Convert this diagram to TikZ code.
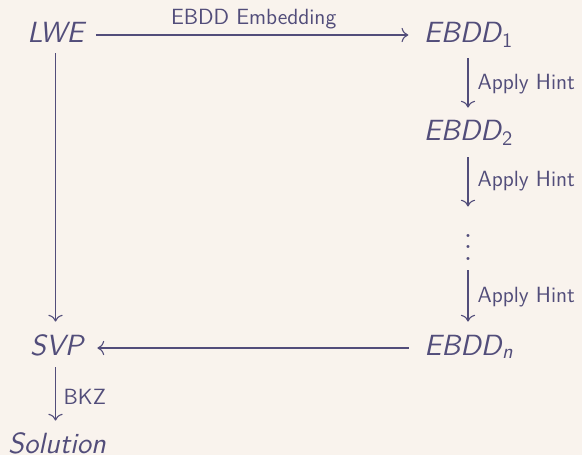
\documentclass[tikz,border=0pt]{standalone}
\usepackage{tikz}
\usetikzlibrary{cd}
\definecolor{ink}{RGB}{82,77,122}
\definecolor{bgc}{RGB}{249,243,237}
\begin{document}
\begin{tikzpicture}[x=0.5pt,y=-0.5pt,
  obj/.style={anchor=base,inner sep=0pt,text height=10pt,text depth=3pt,
    font=\fontsize{14.6}{17}\selectfont\sffamily\slshape,text=ink},
  lab/.style={inner sep=0pt,font=\fontsize{11}{13}\selectfont\sffamily,text=ink},
  arr/.style={draw=ink,line width=0.55pt,-{cm to}}]
\fill[bgc] (0,0) rectangle (582,455);
\useasboundingbox (0,0) rectangle (582,455);
\newcommand{\subup}[1]{\kern0.6pt\raisebox{-2.5pt}{\fontsize{10.2}{12}\selectfont\upshape #1}}
\newcommand{\subsl}[1]{\kern0.4pt\raisebox{-1.5pt}{\fontsize{10.2}{12}\selectfont\slshape #1}}
\node[obj] (lwe) at (55.5,42) {LWE};
\node[obj] (e1) at (468,42) {EBDD\subup{1}};
\node[obj] (e2) at (468,140) {EBDD\subup{2}};
\node[inner sep=0pt,text=ink,anchor=base] (dots) at (468,260) {\scalebox{1.43}{\fontsize{10}{12}\selectfont$\vdots$}};
\node[obj] (en) at (468.5,355) {EBDD\subsl{n}};
\node[obj] (svp) at (56.5,355) {SVP};
\node[obj] (sol) at (57,453) {Solution};
\draw[arr,shorten <=6pt,shorten >=7.5pt] (lwe.east) -- node[lab,midway,anchor=base,yshift=5pt]{EBDD Embedding} (e1.west);
\draw[arr,shorten <=2.5pt,shorten >=6.5pt] (lwe.south -| 55.5,0) -- (svp.north -| 55.5,0);
\draw[arr,shorten <=5pt,shorten >=6pt] (e1.south -| 468,0) -- node[lab,midway,anchor=west,xshift=4.5pt]{Apply Hint} (e2.north -| 468,0);
\draw[arr,shorten <=5.5pt,shorten >=5pt] (e2.south -| 468,0) -- node[lab,midway,anchor=west,xshift=4.5pt]{Apply Hint} (dots.north);
\draw[arr,shorten <=5pt,shorten >=6.5pt] (dots.south) -- node[lab,midway,anchor=west,xshift=4.5pt]{Apply Hint} (en.north -| 468,0);
\draw[arr,shorten <=7.5pt,shorten >=7pt] (en.west) -- (svp.east);
\draw[arr,shorten <=3pt,shorten >=6pt] (svp.south -| 55.5,0) -- node[lab,midway,anchor=west,xshift=3.8pt]{BKZ} (sol.north -| 55.5,0);
\end{tikzpicture}
\end{document}
